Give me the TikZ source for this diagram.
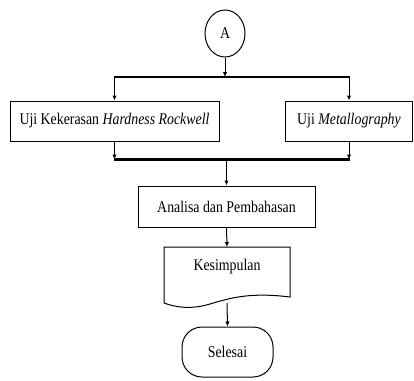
\documentclass[tikz,border=0pt]{standalone}
\usepackage{fontspec}
\setmainfont{Liberation Serif}[FakeStretch=0.85]
\usetikzlibrary{arrows.meta,shapes.geometric}
\begin{document}
\begin{tikzpicture}[x=1pt,y=-1pt,
  thin line/.style={line width=1pt},
  bus/.style={line width=2.2pt},
  arr/.style={thin line,-{Latex[length=5pt,width=4.5pt]}},
  txt/.style={font=\fontsize{16.3}{18}\selectfont},
  box/.style={draw,thin line,rectangle,inner sep=0pt,txt},
  lbl/.style={inner sep=0pt,txt}]
\useasboundingbox (0,0) rectangle (414,380);
\node[draw,thin line,ellipse,minimum width=40pt,minimum height=47pt,inner sep=0pt,txt] (A) at (225,33.5) {A};
\node[box,minimum width=209pt,minimum height=40pt] (L) at (114.5,121) {Uji Kekerasan \textit{Hardness Rockwell}};
\node[box,minimum width=127pt,minimum height=40pt] (R) at (349,121) {Uji \textit{Metallography}};
\node[box,minimum width=177pt,minimum height=41pt] (P) at (226.5,206.5) {Analisa dan Pembahasan};
\coordinate (t1) at (L.north |- 0,77);
\coordinate (t2) at (R.north |- 0,77);
\coordinate (tm) at (A.south |- 0,77);
\coordinate (b1) at (L.south |- 0,159.5);
\coordinate (b2) at (R.south |- 0,159.5);
\coordinate (bm) at (P.north |- 0,159.5);
\draw[bus] ([xshift=-0.5pt]t1) -- ([xshift=0.5pt]t2);
\draw[bus] ([xshift=-0.5pt]b1) -- ([xshift=0.5pt]b2);
\draw[arr] (A.south) -- (tm);
\draw[arr] (t1) -- (L.north);
\draw[arr] (t2) -- (R.north);
\draw[arr] (L.south) -- (b1);
\draw[arr] (R.south) -- (b2);
\draw[arr] (bm) -- (P.north);
% document shape
\draw[thin line] (164,247) -- (290,247) -- (290,297)
  .. controls (250,292) and (230,298) .. (210,304)
  .. controls (190,310) and (175,307) .. (164,303) -- cycle;
\node[lbl] (K) at (227,267) {Kesimpulan};
\coordinate (Kb) at (227,303);
\coordinate (Kt) at (227,247);
\draw[arr] (P.south) -- (Kt);
\node[draw,thin line,rectangle,rounded corners=20pt,minimum width=91pt,minimum height=50pt,inner sep=0pt,txt] (S) at (227.5,352) {Selesai};
\draw[arr] (Kb) -- (S.north);
\end{tikzpicture}
\end{document}
